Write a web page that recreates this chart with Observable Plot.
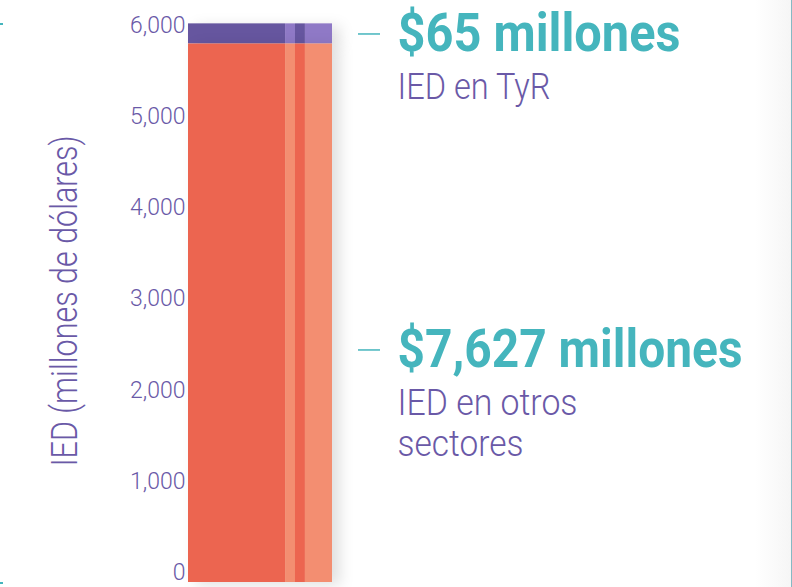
<!DOCTYPE html>
<html>
<head>
<meta charset="utf-8">
<script src="https://cdn.jsdelivr.net/npm/d3@7"></script>
<script src="https://cdn.jsdelivr.net/npm/@observablehq/plot@0.6"></script>
<style>
  html, body { margin: 0; padding: 0; background: #ffffff; }
  #wrap { position: relative; width: 792px; height: 587px; overflow: hidden;
          background: linear-gradient(to right, #ffffff 0px, #ffffff 755px, #f6f6f6 790px); }
  #wrap::after { content: ""; position: absolute; right: 0; top: 0; width: 1px; height: 587px; background: #86b9c4; }
  .edge { position: absolute; left: 0; width: 3px; height: 2px; background: #45b5bd; }
  .bars { filter: drop-shadow(8px 3px 7px rgba(0,0,0,0.12)); }
</style>
</head>
<body>
<div id="wrap">
  <div class="edge" style="top:23px"></div>
  <div class="edge" style="top:582px"></div>
</div>
<script>
// ---- data ----
const sectors = ["IED en otros sectores", "IED en TyR"];
const sectorLow = [0, 5797];
const sectorHigh = [5797, 6018];
const stripeShares = [0.674, 0.069, 0.069, 0.188];
const stripeTone = ["dark", "light", "dark", "light"];
const yTicks = [0, 1000, 2000, 3000, 4000, 5000, 6000];
const yTitle = "IED (millones de dólares)";
const annotAmount = ["$65 millones", "$7,627 millones"];
const annotLine1 = ["IED en TyR", "IED en otros"];
const annotLine2 = ["", "sectores"];
const annotValue = [5929, 2463];

// ---- build tables ----
const palette = {
  "IED en otros sectores": {dark: "#ec6550", light: "#f38e71"},
  "IED en TyR": {dark: "#66569f", light: "#8f79c6"}
};
const edges = [0];
stripeShares.forEach((s, i) => edges.push(edges[i] + s));
const rows = [];
sectors.forEach((s, i) => {
  stripeShares.forEach((_, j) => {
    rows.push({sector: s, x1: edges[j], x2: edges[j + 1], y1: sectorLow[i], y2: sectorHigh[i], tone: stripeTone[j]});
  });
});
const annots = annotAmount.map((a, i) => ({amount: a, line1: annotLine1[i], line2: annotLine2[i], y: annotValue[i]}));

const purple = "#6a59a7";
const teal = "#45b5bd";
const font = "Roboto, sans-serif";

// condensed look: target text lengths (px)
const fitWidth = {
  "$65 millones": 283,
  "$7,627 millones": 345,
  "IED en TyR": 153,
  "IED en otros": 180,
  "sectores": 126,
  "IED (millones de dólares)": 331
};

const chart = Plot.plot({
  width: 792,
  height: 587,
  marginLeft: 188,
  marginRight: 460,
  marginTop: 25,
  marginBottom: 15,
  x: {domain: [0, 1], axis: null},
  y: {domain: [0, 6000], axis: null},
  style: {background: "transparent", color: purple, overflow: "visible"},
  marks: [
    Plot.rectY(rows.filter(d => d.sector === "IED en TyR"), {
      x1: "x1", x2: "x2", y1: "y1", y2: "y2",
      fill: d => palette[d.sector][d.tone], className: "bars"
    }),
    Plot.rectY(rows.filter(d => d.sector === "IED en otros sectores"), {
      x1: "x1", x2: "x2", y1: "y1", y2: "y2", insetBottom: -10,
      fill: d => palette[d.sector][d.tone], className: "bars"
    }),
    Plot.axisY({
      ticks: yTicks, tickFormat: d3.format(","), tickSize: 0, tickPadding: 3,
      fontSize: 23, fontFamily: font, fontWeight: 300, fill: purple, label: null
    }),
    Plot.text([yTitle], {
      text: d => d, frameAnchor: "left", textAnchor: "middle", dx: -123, dy: 2, rotate: -90,
      fontSize: 37, fontFamily: font, fontWeight: 300, fill: purple
    }),
    Plot.ruleY(annots, {y: "y", dy: 2, insetLeft: 170, insetRight: -48, stroke: teal, strokeWidth: 1.5}),
    Plot.text(annots, {
      y: "y", text: "amount", frameAnchor: "right", textAnchor: "start", dx: 65, dy: 2,
      fontSize: 53, fontWeight: "bold", fontFamily: font, fill: teal
    }),
    Plot.text(annots, {
      y: "y", text: "line1", frameAnchor: "right", textAnchor: "start", lineAnchor: "top",
      dx: 65, dy: 41, fontSize: 37, fontWeight: 300, fontFamily: font, fill: purple
    }),
    Plot.text(annots.filter(d => d.line2), {
      y: "y", text: "line2", frameAnchor: "right", textAnchor: "start", lineAnchor: "top",
      dx: 65, dy: 82, fontSize: 37, fontWeight: 300, fontFamily: font, fill: purple
    })
  ]
});
chart.querySelectorAll("text").forEach(t => {
  const w = fitWidth[t.textContent];
  if (w) {
    t.setAttribute("textLength", w);
    t.setAttribute("lengthAdjust", "spacingAndGlyphs");
  }
});
document.getElementById("wrap").appendChild(chart);
</script>
</body>
</html>
